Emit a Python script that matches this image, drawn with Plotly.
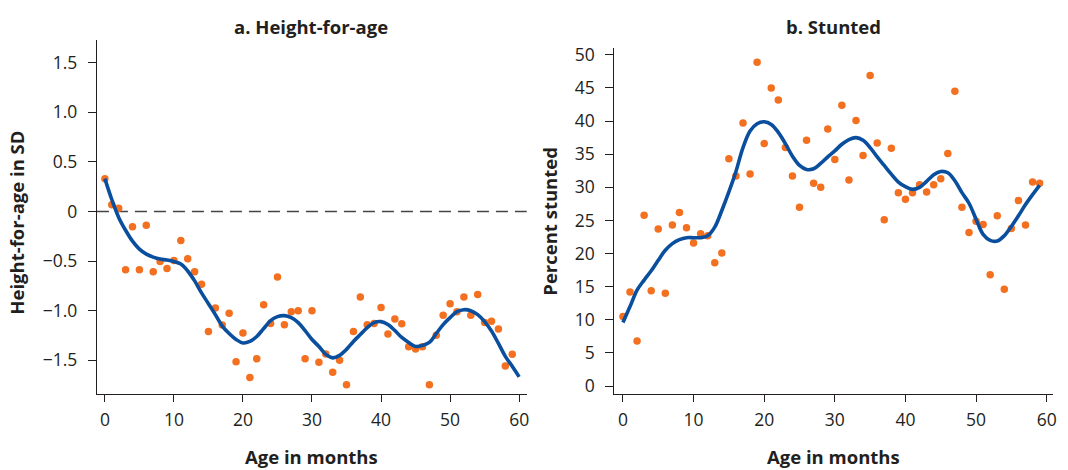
import plotly.graph_objects as go

# ---------------- data ----------------
months = list(range(60))

haz_points = [0.33, 0.066, 0.033, -0.587, -0.155, -0.587, -0.139, -0.607, -0.505, -0.574,
              -0.495, -0.294, -0.478, -0.607, -0.733, -1.21, -0.974, -1.145, -1.027, -1.515,
              -1.225, -1.673, -1.485, -0.94, -1.13, -0.66, -1.142, -1.01, -1.0, -1.485,
              -1.0, -1.52, -1.436, -1.62, -1.50, -1.746, -1.21, -0.861, -1.142, -1.129,
              -0.967, -1.234, -1.083, -1.132, -1.363, -1.386, -1.363, -1.746, -1.248, -1.046,
              -0.931, -1.01, -0.861, -1.046, -0.838, -1.119, -1.106, -1.185, -1.558, -1.44]

haz_fit_months = list(range(61))
haz_fit = [0.33, 0.12, -0.06, -0.19, -0.30, -0.38, -0.43, -0.46, -0.48, -0.49,
           -0.505, -0.53, -0.60, -0.70, -0.82, -0.93, -1.04, -1.155, -1.23, -1.29,
           -1.325, -1.31, -1.26, -1.18, -1.10, -1.06, -1.05, -1.07, -1.12, -1.20,
           -1.29, -1.36, -1.44, -1.475, -1.45, -1.39, -1.31, -1.24, -1.17, -1.12,
           -1.11, -1.14, -1.20, -1.27, -1.32, -1.36, -1.35, -1.32, -1.23, -1.14,
           -1.07, -1.01, -0.99, -1.00, -1.04, -1.11, -1.205, -1.33, -1.46, -1.56,
           -1.667]

stunt_points = [10.5, 14.2, 6.8, 25.8, 14.4, 23.7, 14.0, 24.3, 26.2, 23.9,
                21.6, 23.0, 22.7, 18.6, 20.1, 34.3, 31.7, 39.7, 32.0, 48.9,
                36.6, 45.0, 43.2, 36.0, 31.7, 27.0, 37.1, 30.6, 30.0, 38.8,
                34.2, 42.4, 31.1, 40.1, 34.8, 46.9, 36.7, 25.1, 35.9, 29.2,
                28.2, 29.2, 30.4, 29.3, 30.4, 31.3, 35.1, 44.5, 27.0, 23.2,
                24.9, 24.4, 16.8, 25.7, 14.6, 23.8, 28.0, 24.3, 30.8, 30.6]

stunt_fit_months = list(range(60))
stunt_fit = [9.6, 12.0, 14.5, 16.0, 17.4, 19.0, 20.5, 21.5, 22.1, 22.4,
             22.4, 22.4, 22.7, 24.0, 26.5, 29.3, 32.4, 36.0, 38.5, 39.6,
             39.9, 39.5, 38.3, 36.6, 34.7, 33.3, 32.7, 32.8, 33.6, 34.6,
             35.5, 36.5, 37.2, 37.5, 37.1, 36.0, 34.6, 33.3, 32.0, 30.8,
             30.1, 29.7, 30.0, 30.9, 31.9, 32.4, 32.2, 31.0, 29.2, 27.6,
             25.2, 22.9, 22.0, 21.9, 22.7, 24.1, 25.7, 27.4, 28.9, 30.3]

x_ticks = [0, 10, 20, 30, 40, 50, 60]
haz_ticks = [1.5, 1.0, 0.5, 0, -0.5, -1.0, -1.5]
haz_tick_text = ["1.5", "1.0", "0.5", "0", "\u22120.5", "\u22121.0", "\u22121.5"]
stunt_ticks = [0, 5, 10, 15, 20, 25, 30, 35, 40, 45, 50]

titles = ["a. Height-for-age", "b. Stunted"]
x_title = "Age in months"
y_titles = ["Height-for-age in SD", "Percent stunted"]

# ---------------- style ----------------
ORANGE = "#F37021"
BLUE = "#0A4E9E"
AXIS = "#231F20"
FONT = "Open Sans"
W, H = 1068, 470

fig = go.Figure()

fig.add_trace(go.Scatter(x=months, y=haz_points, mode="markers",
                         marker=dict(color=ORANGE, size=7.5), xaxis="x", yaxis="y",
                         showlegend=False, hoverinfo="skip"))
fig.add_trace(go.Scatter(x=haz_fit_months, y=haz_fit, mode="lines",
                         line=dict(color=BLUE, width=3.6, shape="spline", smoothing=1.0),
                         xaxis="x", yaxis="y", showlegend=False, hoverinfo="skip"))
fig.add_trace(go.Scatter(x=months, y=stunt_points, mode="markers",
                         marker=dict(color=ORANGE, size=7.5), xaxis="x2", yaxis="y2",
                         showlegend=False, hoverinfo="skip"))
fig.add_trace(go.Scatter(x=stunt_fit_months, y=stunt_fit, mode="lines",
                         line=dict(color=BLUE, width=3.6, shape="spline", smoothing=1.0),
                         xaxis="x2", yaxis="y2", showlegend=False, hoverinfo="skip"))

def px_x(p):
    return p / W

def px_y(p):
    return 1 - p / H

axis_common = dict(showgrid=False, zeroline=False, showline=True, linecolor=AXIS,
                   linewidth=1.3, ticks="outside", tickcolor=AXIS, tickwidth=1.3,
                   tickfont=dict(family=FONT, size=17.5, color=AXIS))

fig.update_layout(
    width=W, height=H,
    margin=dict(l=0, r=0, t=0, b=0),
    paper_bgcolor="white", plot_bgcolor="white",
    font=dict(family=FONT, color=AXIS),
    xaxis=dict(domain=[px_x(97.3), px_x(528.7)], range=[-1.15, 61.1],
               tickvals=x_ticks, ticklen=7, ticklabelstandoff=3, anchor="y", **axis_common),
    yaxis=dict(domain=[px_y(395.7), px_y(36)], range=[-1.839, 1.723],
               tickvals=haz_ticks, ticktext=haz_tick_text, ticklen=8,
               ticklabelstandoff=7, anchor="x", **axis_common),
    xaxis2=dict(domain=[px_x(616.7), px_x(1057)], range=[-1.21, 60.9],
                tickvals=x_ticks, ticklen=7, ticklabelstandoff=3, anchor="y2", **axis_common),
    yaxis2=dict(domain=[px_y(395.7), px_y(43.3)], range=[-1.19, 51.1],
                tickvals=stunt_ticks, ticklen=8, ticklabelstandoff=7,
                anchor="x2", **axis_common),
)

# zero reference line
fig.add_shape(type="line", xref="x domain", yref="y", x0=0, x1=1, y0=0, y1=0,
              line=dict(color="#444444", width=1.5, dash="12px,7px"), layer="below")

title_font = dict(family=FONT, size=18.5, color=AXIS, weight="bold")
ann = [
    (titles[0], 312.5, 22, 0),
    (titles[1], 837, 22, 0),
    (x_title, 312.5, 459, 0),
    (x_title, 837, 459, 0),
    (y_titles[0], 17, 221.5, -90),
    (y_titles[1], 552, 219.5, -90),
]
for text, x, y, ang in ann:
    fig.add_annotation(text=text, xref="paper", yref="paper", x=px_x(x), y=px_y(y),
                       xanchor="center", yanchor="middle", showarrow=False,
                       textangle=ang, font=title_font)

fig.write_html("out.html")
